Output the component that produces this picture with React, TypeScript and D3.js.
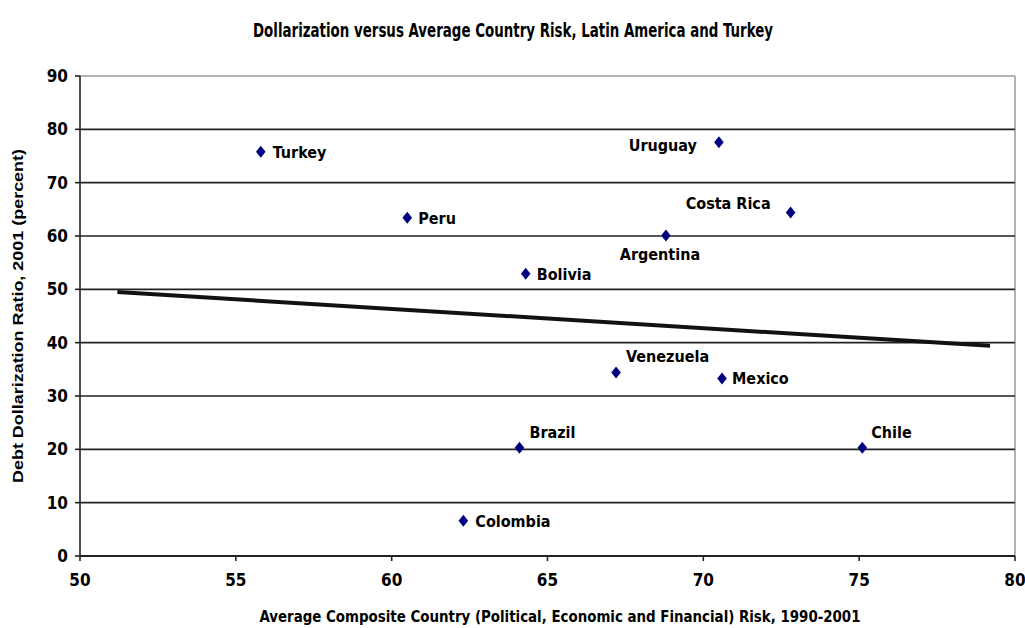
import React from "react";
import * as d3 from "d3";

const countries = ["Turkey", "Peru", "Bolivia", "Uruguay", "Costa Rica", "Argentina", "Venezuela", "Mexico", "Chile", "Brazil", "Colombia"];
const riskScores = [55.8, 60.5, 64.3, 70.5, 72.8, 68.8, 67.2, 70.6, 75.1, 64.1, 62.3];
const dollarization = [75.8, 63.4, 52.9, 77.6, 64.4, 60.1, 34.4, 33.3, 20.3, 20.3, 6.6];

const trendX = [51.2, 79.2];
const trendY = [49.5, 39.4];

const xTicks = [50, 55, 60, 65, 70, 75, 80];
const yTicks = [0, 10, 20, 30, 40, 50, 60, 70, 80, 90];

const title = "Dollarization versus Average Country Risk, Latin America and Turkey";
const xTitle = "Average Composite Country (Political, Economic and Financial) Risk, 1990-2001";
const yTitle = "Debt Dollarization Ratio, 2001 (percent)";

// label placement relative to each marker: [dx, dy, anchor]
const labelPlacement: Record<string, [number, number, string]> = {
  Turkey: [12, 6, "start"],
  Peru: [11, 6, "start"],
  Bolivia: [11, 6, "start"],
  Uruguay: [-22, 9, "end"],
  "Costa Rica": [-20, -4, "end"],
  Argentina: [-6, 25, "middle"],
  Venezuela: [10, -11, "start"],
  Mexico: [10, 6, "start"],
  Chile: [9, -10, "start"],
  Brazil: [10, -10, "start"],
  Colombia: [12, 6, "start"],
};

const W = 1025;
const H = 628;
const left = 80;
const right = 1015;
const top = 76;
const bottom = 556;

const narrow = "'Liberation Sans Narrow', 'DejaVu Sans Condensed', 'Arial Narrow', sans-serif";
const wide = "'Liberation Sans', Arial, sans-serif";

export default function App() {
  const x = d3.scaleLinear().domain([50, 80]).range([left, right]);
  const y = d3.scaleLinear().domain([0, 90]).range([bottom, top]);

  const trend = d3
    .line<number>()
    .x((_, i) => x(trendX[i]))
    .y((d) => y(d))(trendY) as string;

  const diamond = (cx: number, cy: number) =>
    `M${cx},${cy - 6}L${cx + 4.8},${cy}L${cx},${cy + 6}L${cx - 4.8},${cy}Z`;

  return (
    <svg
      width={W}
      height={H}
      style={{ position: "absolute", left: 0, top: 0, background: "#fff" }}
    >
      <rect x={0} y={0} width={W} height={H} fill="#fff" />
      <text
        x={513}
        y={37}
        textAnchor="middle"
        fontFamily={narrow}
        fontWeight="bold"
        fontSize={20}
        textLength={520}
        lengthAdjust="spacingAndGlyphs"
        fill="#000"
      >
        {title}
      </text>

      {/* plot frame */}
      <line x1={left} x2={right} y1={top} y2={top} stroke="#999" strokeWidth={1.5} />
      <line x1={right} x2={right} y1={top} y2={bottom} stroke="#999" strokeWidth={1.5} />

      {/* horizontal gridlines */}
      {yTicks
        .filter((t) => t > 0 && t < 90)
        .map((t) => (
          <line key={t} x1={left} x2={right} y1={y(t)} y2={y(t)} stroke="#222" strokeWidth={1.6} />
        ))}

      {/* y axis */}
      <line x1={left} x2={left} y1={top} y2={bottom} stroke="#222" strokeWidth={1.6} />
      {yTicks.map((t) => (
        <g key={t}>
          <line x1={left - 5} x2={left} y1={y(t)} y2={y(t)} stroke="#222" strokeWidth={1.6} />
          <text
            x={left - 12}
            y={y(t) + 6}
            textAnchor="end"
            fontFamily={narrow}
            fontWeight="bold"
            fontSize={17}
            fill="#000"
          >
            {t}
          </text>
        </g>
      ))}

      {/* x axis */}
      <line x1={left} x2={right} y1={bottom} y2={bottom} stroke="#222" strokeWidth={1.8} />
      {xTicks.map((t) => (
        <g key={t}>
          <line x1={x(t)} x2={x(t)} y1={bottom} y2={bottom + 5} stroke="#222" strokeWidth={1.6} />
          <text
            x={x(t)}
            y={bottom + 30}
            textAnchor="middle"
            fontFamily={narrow}
            fontWeight="bold"
            fontSize={17}
            fill="#000"
          >
            {t}
          </text>
        </g>
      ))}

      {/* trend line */}
      <path d={trend} fill="none" stroke="#111" strokeWidth={4} />

      {/* country markers and labels */}
      {countries.map((c, i) => {
        const cx = x(riskScores[i]);
        const cy = y(dollarization[i]);
        const [dx, dy, anchor] = labelPlacement[c];
        return (
          <g key={c}>
            <path d={diamond(cx, cy)} fill="#000080" />
            <text
              x={cx + dx}
              y={cy + dy}
              textAnchor={anchor}
              fontFamily={narrow}
              fontWeight="bold"
              fontSize={16}
              fill="#000"
            >
              {c}
            </text>
          </g>
        );
      })}

      <text
        x={560}
        y={622}
        textAnchor="middle"
        fontFamily={narrow}
        fontWeight="bold"
        fontSize={16}
        textLength={601}
        lengthAdjust="spacingAndGlyphs"
        fill="#000"
      >
        {xTitle}
      </text>

      <text
        transform={`translate(23,${(top + bottom) / 2}) rotate(-90)`}
        textAnchor="middle"
        fontFamily={wide}
        fontWeight="bold"
        fontSize={14}
        textLength={334}
        lengthAdjust="spacingAndGlyphs"
        fill="#000"
      >
        {yTitle}
      </text>
    </svg>
  );
}
